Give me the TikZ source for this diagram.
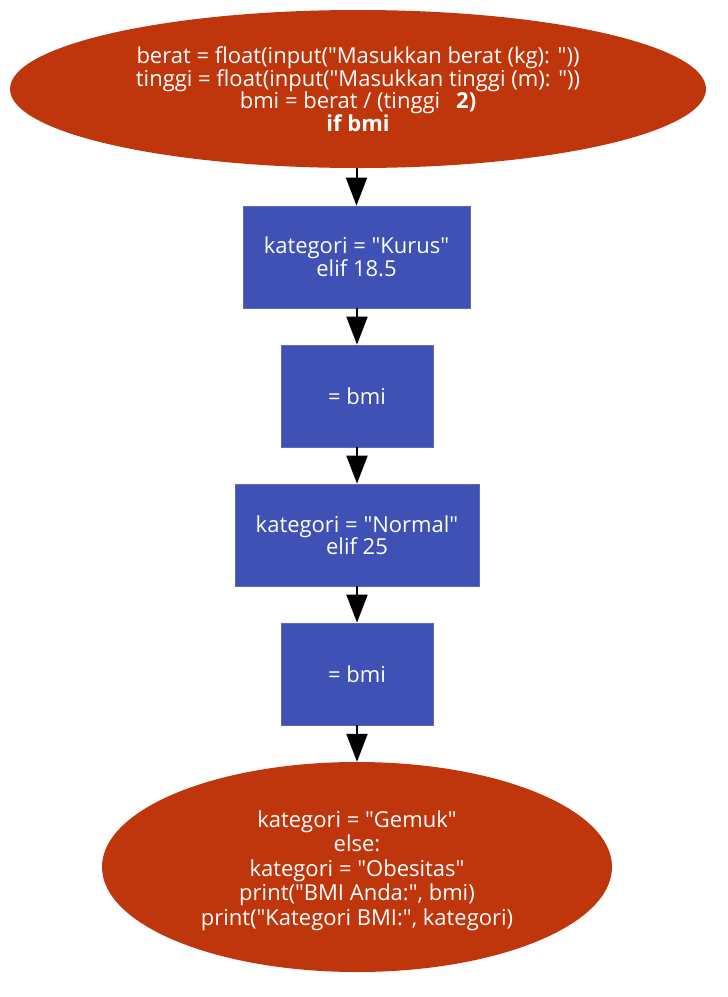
\documentclass[tikz,border=0pt]{standalone}
\usepackage{fontspec}
\setmainfont{Open Sans}[Ligatures=TeXOff]
\usetikzlibrary{arrows.meta,shapes.geometric}
\definecolor{termred}{HTML}{BF360C}
\definecolor{procblue}{HTML}{3F51B5}
\tikzset{
  term/.style={ellipse, fill=termred, draw=none, text=white, align=center, inner sep=0pt},
  proc/.style={rectangle, fill=procblue, draw=procblue!85!white, line width=0.8pt, text=white, align=center, inner sep=0pt},
  flow/.style={line width=2pt, -{Triangle[length=28pt,width=21pt]}, shorten >=0pt},
  txt/.style={font=\fontsize{22}{22.5}\selectfont},
  plain/.style={text=white, align=center, inner sep=0pt}
}
\begin{document}
\begin{tikzpicture}[x=1pt,y=-1pt]
\useasboundingbox (0,0) rectangle (728,997);
\node[term, minimum width=696pt, minimum height=158pt, txt] (start) at (358,89)
  {berat = float(input("Masukkan berat (kg): "))\\
   tinggi = float(input("Masukkan tinggi (m): "))\\
   bmi = berat / (tinggi\hspace{16pt}\textbf{2)}\\
   \textbf{if bmi}};
\node[proc, minimum width=227pt, minimum height=102pt, txt] (kurus) at (356.5,257)
  {kategori = "Kurus"\\ elif 18.5};
\node[proc, minimum width=152pt, minimum height=102pt, txt] (bmia) at (357,396) {= bmi};
\node[proc, minimum width=244pt, minimum height=102pt, txt] (normal) at (357,535)
  {kategori = "Normal"\\ elif 25};
\node[proc, minimum width=152pt, minimum height=102pt, txt] (bmib) at (357,674) {= bmi};
\node[term, minimum width=510pt, minimum height=210pt] (end) at (357,867) {};
\node[plain, font=\fontsize{22}{24.5}\selectfont] (endtext) at (357,870.5)
  {kategori = "Gemuk"\\ else:\\ kategori = "Obesitas"\\ print("BMI Anda:", bmi)\\ print("Kategori BMI:", kategori)};
\draw[flow] (start.south -| kurus.north) -- (kurus.north);
\draw[flow] (kurus.south -| bmia.north) -- (bmia.north);
\draw[flow] (bmia.south) -- (normal.north);
\draw[flow] (normal.south) -- (bmib.north);
\draw[flow] (bmib.south) -- (end.north);
\end{tikzpicture}
\end{document}
